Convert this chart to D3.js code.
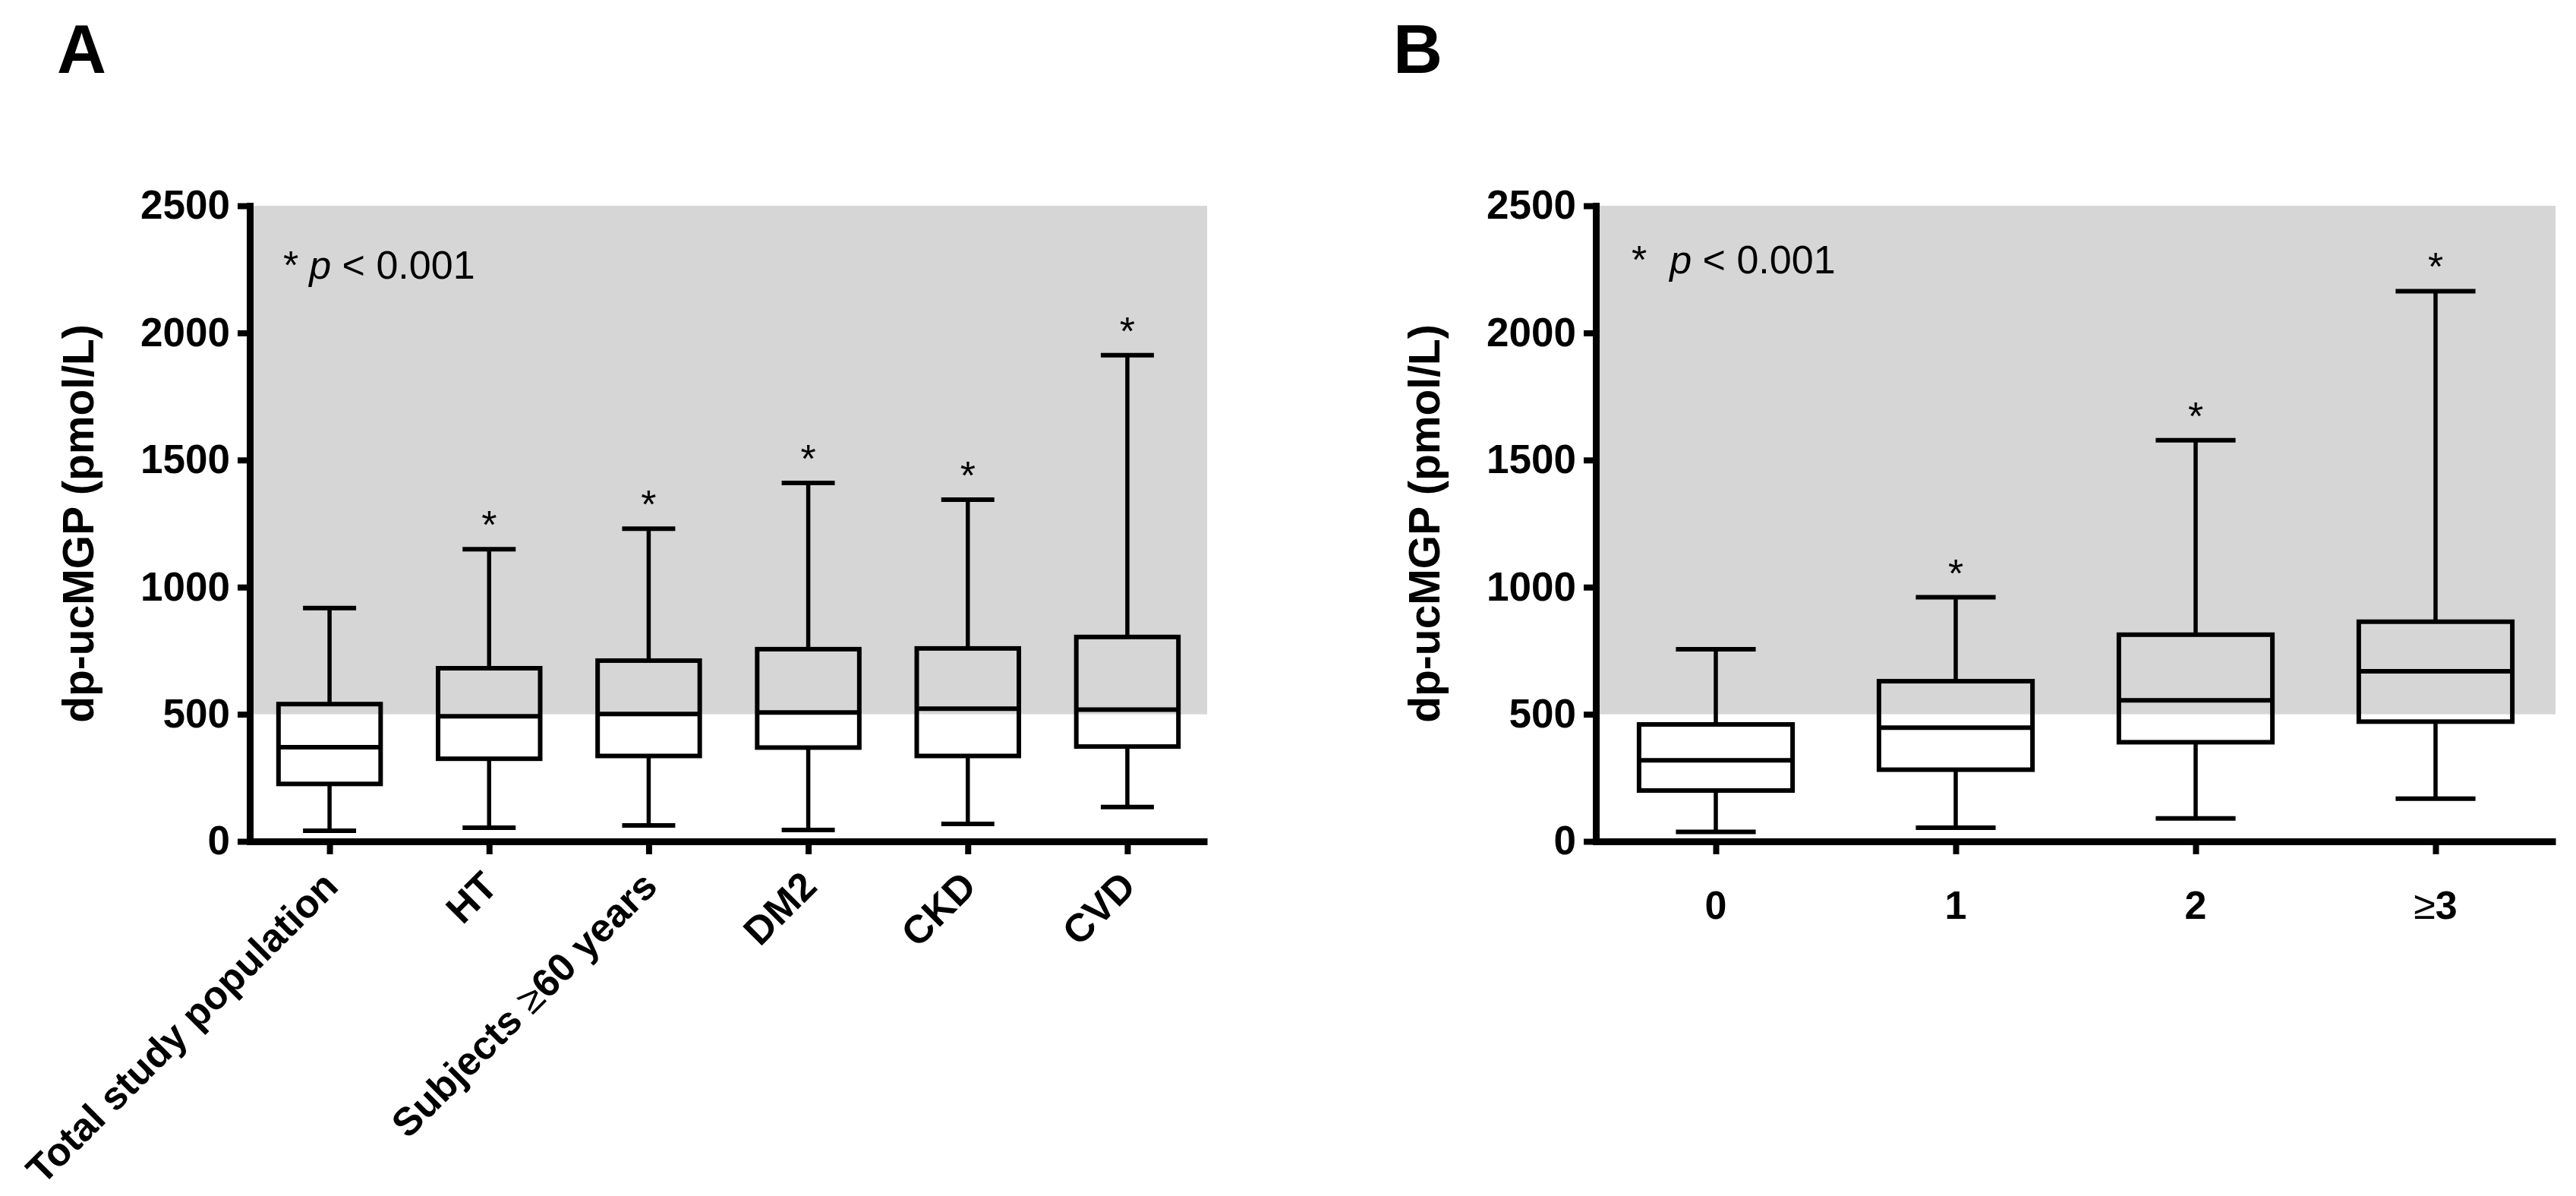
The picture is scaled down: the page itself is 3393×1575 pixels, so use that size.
<!DOCTYPE html>
<html>
<head>
<meta charset="utf-8">
<script src="https://cdn.jsdelivr.net/npm/d3@7"></script>
<style>
  body { margin: 0; background: #fff; }
  svg { display: block; font-family: "Liberation Sans", Arial, sans-serif; }
</style>
</head>
<body>
<div id="chart"></div>
<script>
// Panel A - dp-ucMGP by subgroup
const catsA = ['Total study population', 'HT', 'Subjects ≥60 years', 'DM2', 'CKD', 'CVD'];
const lowA  = [42, 54, 63, 45, 69, 135];
const q1A   = [226, 325, 336, 369, 336, 373];
const medA  = [370, 492, 501, 507, 522, 518];
const q3A   = [540, 681, 711, 756, 759, 804];
const highA = [918, 1149, 1230, 1410, 1344, 1912];
const starA = [false, true, true, true, true, true];

// Panel B - dp-ucMGP by number of conditions
const catsB = ['0', '1', '2', '≥3'];
const lowB  = [37, 54, 90, 168];
const q1B   = [200, 282, 390, 471];
const medB  = [319, 447, 555, 669];
const q3B   = [460, 630, 813, 864];
const highB = [756, 960, 1578, 2164];
const starB = [false, true, true, true];

const yTicks = [0, 500, 1000, 1500, 2000, 2500];
const shadeFrom = 500;   // grey reference band: 500 .. 2500

const W = 3393, H = 1575;
const FONT = '"Liberation Sans", Arial, sans-serif';

const CONFIG = {
  TOP: 271,
  BOTTOM: 1108,
  AXIS_W: 9,
  BOX_W: 6,
  WHISKER_W: 5.5,
  BOX_RATIO: 0.64,   // box width / category step
  CAP_RATIO: 0.52,   // cap width / box width
  GREY: '#d6d6d6',
};

const svg = d3.select('#chart').append('svg')
  .attr('width', W)
  .attr('height', H);

function drawPanel(opts) {
  const { x0, x1, cats, low, q1, med, q3, high, star } = opts;

  const y = d3.scaleLinear().domain([0, 2500]).range([CONFIG.BOTTOM, CONFIG.TOP]);
  const x = d3.scalePoint().domain(cats).range([x0, x1]).padding(0.5);
  const boxW = x.step() * CONFIG.BOX_RATIO;
  const capW = boxW * CONFIG.CAP_RATIO;

  const g = svg.append('g');

  // grey band behind the boxes
  g.append('rect')
    .attr('x', x0)
    .attr('y', y(2500))
    .attr('width', x1 - x0)
    .attr('height', y(shadeFrom) - y(2500))
    .attr('fill', CONFIG.GREY);

  const rows = cats.map((c, i) => ({
    cat: c, low: low[i], q1: q1[i], med: med[i], q3: q3[i], high: high[i], star: star[i]
  }));

  const box = g.selectAll('.box').data(rows).join('g').attr('class', 'box');

  // whiskers
  box.append('line')
    .attr('x1', d => x(d.cat)).attr('x2', d => x(d.cat))
    .attr('y1', d => y(d.high)).attr('y2', d => y(d.q3))
    .attr('stroke', '#000').attr('stroke-width', CONFIG.WHISKER_W);
  box.append('line')
    .attr('x1', d => x(d.cat)).attr('x2', d => x(d.cat))
    .attr('y1', d => y(d.q1)).attr('y2', d => y(d.low))
    .attr('stroke', '#000').attr('stroke-width', CONFIG.WHISKER_W);

  // caps
  ['high', 'low'].forEach(k => {
    box.append('line')
      .attr('x1', d => x(d.cat) - capW / 2).attr('x2', d => x(d.cat) + capW / 2)
      .attr('y1', d => y(d[k])).attr('y2', d => y(d[k]))
      .attr('stroke', '#000').attr('stroke-width', CONFIG.BOX_W);
  });

  // box
  box.append('rect')
    .attr('x', d => x(d.cat) - boxW / 2)
    .attr('y', d => y(d.q3))
    .attr('width', boxW)
    .attr('height', d => y(d.q1) - y(d.q3))
    .attr('fill', 'none')
    .attr('stroke', '#000')
    .attr('stroke-width', CONFIG.BOX_W);

  // median
  box.append('line')
    .attr('x1', d => x(d.cat) - boxW / 2).attr('x2', d => x(d.cat) + boxW / 2)
    .attr('y1', d => y(d.med)).attr('y2', d => y(d.med))
    .attr('stroke', '#000').attr('stroke-width', CONFIG.BOX_W);

  // significance stars
  box.filter(d => d.star).append('text')
    .attr('x', d => x(d.cat))
    .attr('y', d => y(d.high) - 14)
    .attr('text-anchor', 'middle')
    .attr('font-size', 52)
    .text('*');

  // y axis
  const yAxis = g.append('g')
    .attr('transform', `translate(${x0},0)`)
    .call(d3.axisLeft(y).tickValues(yTicks).tickFormat(d3.format('d'))
      .tickSize(16).tickSizeOuter(0).tickPadding(10));
  yAxis.select('.domain').attr('stroke-width', CONFIG.AXIS_W).attr('stroke-linecap', 'square');
  yAxis.selectAll('.tick line').attr('stroke-width', 8);
  yAxis.selectAll('.tick text')
    .attr('font-family', FONT)
    .attr('font-size', 53)
    .attr('font-weight', 'bold')
    .attr('fill', '#000');

  // x axis
  const xAxis = g.append('g')
    .attr('transform', `translate(0,${y(0)})`)
    .call(d3.axisBottom(x).tickSize(17).tickSizeOuter(0).tickFormat(''));
  xAxis.select('.domain').attr('stroke-width', CONFIG.AXIS_W);
  xAxis.selectAll('.tick line').attr('stroke-width', 8);

  // y axis title
  g.append('text')
    .attr('transform', `translate(${opts.titleX},${(y(0) + y(2500)) / 2}) rotate(-90)`)
    .attr('text-anchor', 'middle')
    .attr('font-size', 57)
    .attr('font-weight', 'bold')
    .text('dp-ucMGP (pmol/L)');

  // p value note
  const note = g.append('text')
    .attr('x', opts.noteX)
    .attr('y', opts.noteY)
    .attr('font-size', 52);
  note.append('tspan').text('*');
  note.append('tspan').attr('dx', opts.noteGap).attr('font-style', 'italic').text('p');
  note.append('tspan').text(' < 0.001');

  // panel letter
  svg.append('text')
    .attr('x', opts.letterX)
    .attr('y', 96)
    .attr('font-size', 90)
    .attr('font-weight', 'bold')
    .text(opts.letter);

  return { g, x, y };
}

// split "≥" into a lighter glyph, like the original
function labelParts(sel, label) {
  const parts = label.split('≥');
  sel.append('tspan').text(parts[0]);
  if (parts.length > 1) {
    sel.append('tspan').attr('font-weight', 'normal').text('≥');
    sel.append('tspan').text(parts[1]);
  }
}

// Panel A
const A = drawPanel({
  x0: 329, x1: 1590, cats: catsA,
  low: lowA, q1: q1A, med: medA, q3: q3A, high: highA, star: starA,
  titleX: 123, noteX: 373, noteY: 367, noteGap: 14, letter: 'A', letterX: 75,
});

A.g.selectAll('.xlab').data(catsA).join('text')
  .attr('class', 'xlab')
  .attr('transform', d => `translate(${A.x(d) + 14},${A.y(0) + 62}) rotate(-45)`)
  .attr('text-anchor', 'end')
  .attr('font-size', 52)
  .attr('font-weight', 'bold')
  .each(function (d) { labelParts(d3.select(this), d); });

// Panel B
const B = drawPanel({
  x0: 2102, x1: 3366, cats: catsB,
  low: lowB, q1: q1B, med: medB, q3: q3B, high: highB, star: starB,
  titleX: 1896, noteX: 2149, noteY: 360, noteGap: 30, letter: 'B', letterX: 1835,
});

B.g.selectAll('.xlab').data(catsB).join('text')
  .attr('class', 'xlab')
  .attr('x', d => B.x(d))
  .attr('y', 1210)
  .attr('text-anchor', 'middle')
  .attr('font-size', 52)
  .attr('font-weight', 'bold')
  .each(function (d) { labelParts(d3.select(this), d); });
</script>
</body>
</html>
